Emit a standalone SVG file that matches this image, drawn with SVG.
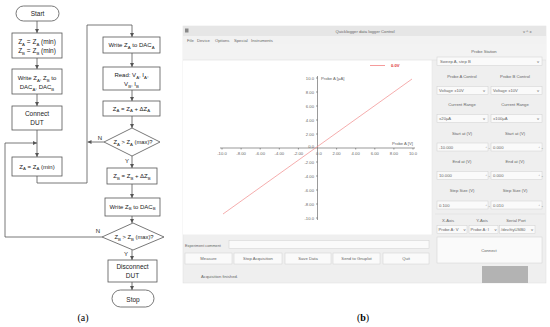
<svg xmlns="http://www.w3.org/2000/svg" width="550" height="327" viewBox="0 0 550 327">
<defs>
<marker id="ah" viewBox="0 0 6 6" refX="6" refY="3" markerWidth="4" markerHeight="4" orient="auto" markerUnits="userSpaceOnUse"><path d="M0,0 L6,3 L0,6 z" fill="#555"/></marker>
<style>
.b{fill:#fff;stroke:#555;stroke-width:0.8}
.t{font-family:"Liberation Sans",Arial,sans-serif;font-size:6.5px;fill:#222;text-anchor:middle}
.s{font-size:4.3px}
.c{fill:none;stroke:#555;stroke-width:0.8}
.g{font-family:"Liberation Sans",Arial,sans-serif;font-size:4.2px;fill:#666}
.gm{text-anchor:middle}
.ge{text-anchor:end}
.w{fill:#fafafa;stroke:#d0d0d0;stroke-width:0.5}
.cap{font-family:"Liberation Serif","Times New Roman",serif;font-size:10px;fill:#000;text-anchor:middle}
</style>
</defs>
<rect width="550" height="327" fill="#fff"/>

<!-- Flowchart (a) -->
<g id="connectors">
<path class="c" d="M37,21 V33" marker-end="url(#ah)"/>
<path class="c" d="M37,58 V69" marker-end="url(#ah)"/>
<path class="c" d="M37,94 V106" marker-end="url(#ah)"/>
<path class="c" d="M37,130 V157" marker-end="url(#ah)"/>
<path class="c" d="M37,176 V183 H87 V25 H132 V37" marker-end="url(#ah)"/>
<path class="c" d="M132,53 V67" marker-end="url(#ah)"/>
<path class="c" d="M132,90 V101" marker-end="url(#ah)"/>
<path class="c" d="M132,116 V128" marker-end="url(#ah)"/>
<path class="c" d="M104,142 H87.5" marker-end="url(#ah)"/>
<path class="c" d="M132,156 V168" marker-end="url(#ah)"/>
<path class="c" d="M132,184 V198" marker-end="url(#ah)"/>
<path class="c" d="M132,216 V223" marker-end="url(#ah)"/>
<path class="c" d="M102,237 H5 V143 H37" marker-end="url(#ah)"/>
<path class="c" d="M132,250 V260" marker-end="url(#ah)"/>
<path class="c" d="M132,282 V290" marker-end="url(#ah)"/>
<text class="t" x="100" y="140" style="font-size:6px">N</text>
<text class="t" x="127" y="163" style="font-size:6px">Y</text>
<text class="t" x="98" y="233" style="font-size:6px">N</text>
<text class="t" x="126" y="256" style="font-size:6px">Y</text>
</g>

<g id="start"><rect class="b" x="16" y="6" width="43" height="15" rx="7.5"/><text class="t" x="37.5" y="16.3">Start</text></g>
<g id="init"><rect class="b" x="12" y="33" width="50" height="25"/>
<text class="t" x="37" y="44">Z<tspan class="s" dy="1.5">A</tspan><tspan dy="-1.5"> = Z</tspan><tspan class="s" dy="1.5">A</tspan><tspan dy="-1.5"> (min)</tspan></text>
<text class="t" x="37" y="53">Z<tspan class="s" dy="1.5">B</tspan><tspan dy="-1.5"> = Z</tspan><tspan class="s" dy="1.5">B</tspan><tspan dy="-1.5"> (min)</tspan></text></g>
<g id="writeAB"><rect class="b" x="12" y="69" width="50" height="25"/>
<text class="t" x="37" y="80" style="font-size:6px">Write Z<tspan class="s" dy="1.5">A</tspan><tspan dy="-1.5">, Z</tspan><tspan class="s" dy="1.5">B</tspan><tspan dy="-1.5"> to</tspan></text>
<text class="t" x="37" y="89" style="font-size:6px">DAC<tspan class="s" dy="1.5">A</tspan><tspan dy="-1.5">, DAC</tspan><tspan class="s" dy="1.5">B</tspan></text></g>
<g id="connect"><rect class="b" x="12" y="106" width="50" height="24"/><text class="t" x="37" y="116">Connect</text><text class="t" x="37" y="125">DUT</text></g>
<g id="resetA"><rect class="b" x="12" y="157" width="50" height="19"/>
<text class="t" x="37" y="168.5" style="font-size:6px">Z<tspan class="s" dy="1.5">A</tspan><tspan dy="-1.5"> = Z</tspan><tspan class="s" dy="1.5">A</tspan><tspan dy="-1.5"> (min)</tspan></text></g>

<g id="writeA"><rect class="b" x="103" y="37" width="57" height="16"/>
<text class="t" x="131.5" y="47" style="font-size:6px">Write Z<tspan class="s" dy="1.5">A</tspan><tspan dy="-1.5"> to DAC</tspan><tspan class="s" dy="1.5">A</tspan></text></g>
<g id="read"><rect class="b" x="103" y="67" width="57" height="23"/>
<text class="t" x="131.5" y="77" style="font-size:6px">Read: V<tspan class="s" dy="1.5">A</tspan><tspan dy="-1.5">, I</tspan><tspan class="s" dy="1.5">A</tspan><tspan dy="-1.5">,</tspan></text>
<text class="t" x="131.5" y="86" style="font-size:6px">V<tspan class="s" dy="1.5">B</tspan><tspan dy="-1.5">, I</tspan><tspan class="s" dy="1.5">B</tspan></text></g>
<g id="incA"><rect class="b" x="103" y="101" width="57" height="15"/>
<text class="t" x="131.5" y="110.5" style="font-size:6px">Z<tspan class="s" dy="1.5">A</tspan><tspan dy="-1.5"> = Z</tspan><tspan class="s" dy="1.5">A</tspan><tspan dy="-1.5"> + ΔZ</tspan><tspan class="s" dy="1.5">A</tspan></text></g>
<g id="decA"><path class="b" d="M132,128 L160,142 L132,156 L104,142 Z"/>
<text class="t" x="133" y="144" style="font-size:5.8px">Z<tspan class="s" dy="1.5">A</tspan><tspan dy="-1.5"> &gt; Z</tspan><tspan class="s" dy="1.5">A</tspan><tspan dy="-1.5"> (max)?</tspan></text></g>
<g id="incB"><rect class="b" x="107" y="168" width="50" height="16"/>
<text class="t" x="132" y="178" style="font-size:6px">Z<tspan class="s" dy="1.5">B</tspan><tspan dy="-1.5"> = Z</tspan><tspan class="s" dy="1.5">B</tspan><tspan dy="-1.5"> + ΔZ</tspan><tspan class="s" dy="1.5">B</tspan></text></g>
<g id="writeB"><rect class="b" x="105" y="198" width="55" height="18"/>
<text class="t" x="132.5" y="208.5" style="font-size:6px">Write Z<tspan class="s" dy="1.5">B</tspan><tspan dy="-1.5"> to DAC</tspan><tspan class="s" dy="1.5">B</tspan></text></g>
<g id="decB"><path class="b" d="M133,223 L164,237 L133,250 L102,237 Z"/>
<text class="t" x="134" y="239" style="font-size:5.8px">Z<tspan class="s" dy="1.5">B</tspan><tspan dy="-1.5"> &gt; Z</tspan><tspan class="s" dy="1.5">B</tspan><tspan dy="-1.5"> (max)?</tspan></text></g>
<g id="disconnect"><rect class="b" x="108" y="260" width="49" height="22"/><text class="t" x="132.5" y="269">Disconnect</text><text class="t" x="132.5" y="278">DUT</text></g>
<g id="stop"><rect class="b" x="112" y="290" width="42" height="17" rx="8.5"/><text class="t" x="133" y="301.5">Stop</text></g>
<text class="cap" x="83" y="321">(a)</text>

<!-- GUI (b) -->
<g id="gui">
<rect x="183" y="26" width="363" height="257" fill="#efefef" stroke="#ddd" stroke-width="0.5"/>
<rect x="183" y="26" width="363" height="10" fill="#e6e6e6"/>
<rect x="185" y="28.5" width="3.5" height="4" fill="#888"/>
<text class="g gm" x="365" y="32.5">Quicklogger data logger Control</text>
<text class="g" x="523" y="32.5">v  ^  x</text>
<rect x="183" y="36" width="363" height="8" fill="#f2f2f2"/>
<text class="g" x="187" y="41.5">File</text>
<text class="g" x="197" y="41.5">Device</text>
<text class="g" x="215" y="41.5">Options</text>
<text class="g" x="234" y="41.5">Special</text>
<text class="g" x="251" y="41.5">Instruments</text>
<rect x="183" y="44" width="363" height="16" fill="#f3f3f3"/>
<line x1="183" y1="60" x2="546" y2="60" stroke="#d8d8d8" stroke-width="0.5"/>
<rect x="183" y="60.5" width="249" height="174" fill="#fff"/>
<line x1="432" y1="60" x2="432" y2="235" stroke="#e0e0e0" stroke-width="0.5"/>

<!-- axes -->
<g stroke="#555" stroke-width="0.6">
<line x1="220" y1="148" x2="415" y2="148"/>
<line x1="317.5" y1="76" x2="317.5" y2="220"/>
<path d="M222,148v1.5M241.1,148v1.5M260.2,148v1.5M279.3,148v1.5M298.4,148v1.5M336.6,148v1.5M355.7,148v1.5M374.8,148v1.5M393.9,148v1.5M413,148v1.5"/>
<path d="M316,78h1.5M316,92h1.5M316,106h1.5M316,120h1.5M316,134h1.5M316,162h1.5M316,176h1.5M316,190h1.5M316,204h1.5M316,218h1.5"/>
</g>
<g class="g gm">
<text x="222" y="155">-10.0</text><text x="241.1" y="155">-8.00</text><text x="260.2" y="155">-6.00</text><text x="279.3" y="155">-4.00</text><text x="298.4" y="155">-2.00</text><text x="319" y="155">0.0</text><text x="336.6" y="155">2.00</text><text x="355.7" y="155">4.00</text><text x="374.8" y="155">6.00</text><text x="393.9" y="155">8.00</text><text x="413" y="155">10.0</text>
</g>
<g class="g ge">
<text x="314" y="79.5">10.0</text><text x="314" y="93.5">8.00</text><text x="314" y="107.5">6.00</text><text x="314" y="121.5">4.00</text><text x="314" y="135.5">2.00</text><text x="314" y="148">0.0</text><text x="314" y="163.5">-2.00</text><text x="314" y="177.5">-4.00</text><text x="314" y="191.5">-6.00</text><text x="314" y="205.5">-8.00</text><text x="314" y="219.5">-10.0</text>
</g>
<text class="g" x="321" y="80">Probe A [µA]</text>
<text class="g" x="392" y="144.5">Probe A [V]</text>
<line x1="223" y1="214" x2="412" y2="79" stroke="#f08a8a" stroke-width="0.7"/>
<line x1="370" y1="65.5" x2="385" y2="65.5" stroke="#f07070" stroke-width="0.7"/>
<text class="g" x="391" y="67" style="fill:#e03030;font-weight:bold">0.0V</text>

<!-- bottom controls -->
<text class="g" x="185" y="246.5" style="font-size:3.8px">Experiment comment</text>
<rect class="w" x="229" y="240.5" width="200" height="8" fill="#fff"/>
<rect class="w" x="185" y="253" width="47" height="11"/><text class="g gm" x="208.5" y="259.8">Measure</text>
<rect class="w" x="234" y="253" width="48" height="11"/><text class="g gm" x="258" y="259.8">Stop Acquisition</text>
<rect class="w" x="285" y="253" width="46" height="11"/><text class="g gm" x="308" y="259.8">Save Data</text>
<rect class="w" x="333" y="253" width="47" height="11"/><text class="g gm" x="356.5" y="259.8">Send to Gnuplot</text>
<rect class="w" x="383" y="253" width="46" height="11"/><text class="g gm" x="406" y="259.8">Quit</text>
<text class="g" x="201" y="277.5">Acquisition finished.</text>

<!-- right panel -->
<text class="g gm" x="484" y="52.5">Probe Station</text>
<rect class="w" x="437" y="57" width="105" height="8.5"/><text class="g" x="440" y="62.5">Sweep A, step B</text><text class="g" x="537" y="62.5">v</text>
<text class="g gm" x="462" y="77.5">Probe A Control</text><text class="g gm" x="515" y="77.5">Probe B Control</text>
<rect class="w" x="437" y="86.5" width="51" height="8"/><text class="g" x="439" y="92">Voltage ±10V</text><text class="g" x="483" y="92">v</text>
<rect class="w" x="491" y="86.5" width="51" height="8"/><text class="g" x="493" y="92">Voltage ±10V</text><text class="g" x="537" y="92">v</text>
<text class="g gm" x="462" y="105.5">Current Range</text><text class="g gm" x="515" y="105.5">Current Range</text>
<rect class="w" x="437" y="114.5" width="51" height="8"/><text class="g" x="439" y="120">±20µA</text><text class="g" x="483" y="120">v</text>
<rect class="w" x="491" y="114.5" width="51" height="8"/><text class="g" x="493" y="120">±100µA</text><text class="g" x="537" y="120">v</text>
<text class="g gm" x="462" y="134.5">Start at (V)</text><text class="g gm" x="515" y="134.5">Start at (V)</text>
<rect class="w" x="437" y="143" width="51" height="8" fill="#fff"/><text class="g" x="439" y="148.5">-10.000</text><text class="g" x="485" y="148.5" style="font-size:3px">⌃⌄</text>
<rect class="w" x="491" y="143" width="51" height="8" fill="#fff"/><text class="g" x="493" y="148.5">0.000</text><text class="g" x="538" y="148.5" style="font-size:3px">⌃⌄</text>
<text class="g gm" x="462" y="162.5">End at (V)</text><text class="g gm" x="515" y="162.5">End at (V)</text>
<rect class="w" x="437" y="171.5" width="51" height="8" fill="#fff"/><text class="g" x="439" y="177">10.000</text><text class="g" x="485" y="177" style="font-size:3px">⌃⌄</text>
<rect class="w" x="491" y="171.5" width="51" height="8" fill="#fff"/><text class="g" x="493" y="177">0.000</text><text class="g" x="538" y="177" style="font-size:3px">⌃⌄</text>
<text class="g gm" x="462" y="191.5">Step Size (V)</text><text class="g gm" x="515" y="191.5">Step Size (V)</text>
<rect class="w" x="437" y="201" width="51" height="8" fill="#fff"/><text class="g" x="439" y="206.5">0.100</text><text class="g" x="485" y="206.5" style="font-size:3px">⌃⌄</text>
<rect class="w" x="491" y="201" width="51" height="8" fill="#fff"/><text class="g" x="493" y="206.5">0.010</text><text class="g" x="538" y="206.5" style="font-size:3px">⌃⌄</text>
<line x1="435" y1="214" x2="545" y2="214" stroke="#d8d8d8" stroke-width="0.5"/>
<text class="g gm" x="448" y="221.5">X-Axis</text><text class="g gm" x="482" y="221.5">Y-Axis</text><text class="g gm" x="516" y="221.5">Serial Port</text>
<rect class="w" x="437" y="225.5" width="30" height="8"/><text class="g" x="438.5" y="231">Probe A: V</text><text class="g" x="463.5" y="231">v</text>
<rect class="w" x="469" y="225.5" width="29" height="8"/><text class="g" x="470.5" y="231">Probe A: I</text><text class="g" x="494.5" y="231">v</text>
<rect class="w" x="499.5" y="225.5" width="35.5" height="8"/><text class="g" x="501" y="231">/dev/ttyUSB0</text><text class="g" x="531" y="231">v</text>
<rect class="w" x="437" y="237" width="105" height="26"/><text class="g gm" x="489" y="251.5">Connect</text>
<rect x="482" y="266" width="46" height="17" fill="#b3b3b3"/>
</g>
<text class="cap" x="363" y="321">(<tspan font-weight="bold">b</tspan>)</text>
</svg>
